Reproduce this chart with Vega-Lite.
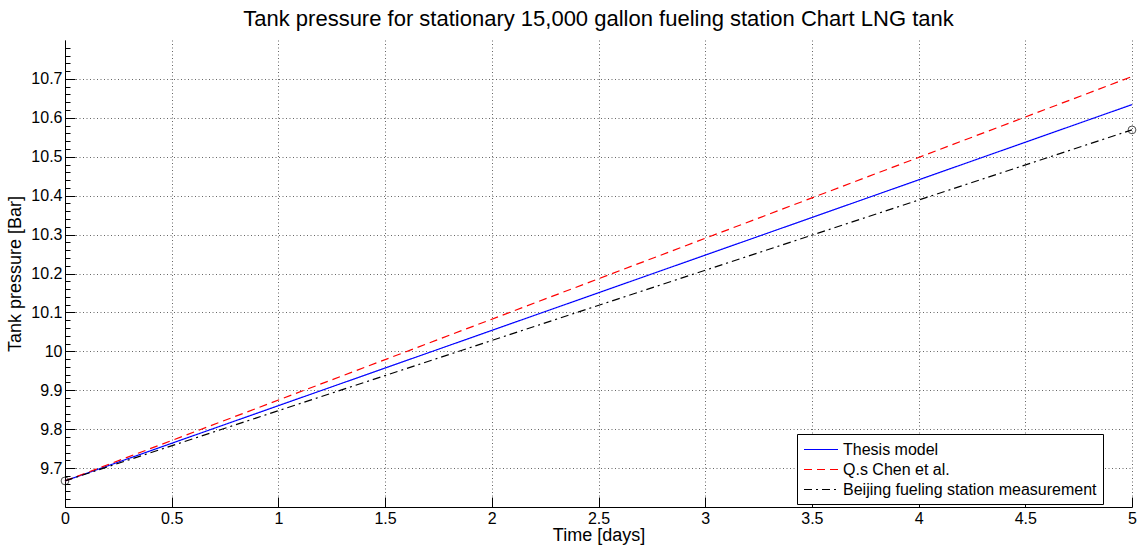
{
  "$schema": "https://vega.github.io/schema/vega-lite/v6.json",
  "width": 1067,
  "height": 467,
  "autosize": "none",
  "padding": {"left": 65, "top": 40, "right": 8, "bottom": 43},
  "background": "white",
  "title": {"text": "Tank pressure for stationary 15,000 gallon fueling station Chart LNG tank", "font": "Liberation Sans", "fontSize": 22, "fontWeight": "normal", "color": "black", "offset": 9},
  "config": {
    "view": {"stroke": null},
    "axis": {"labelFont": "Liberation Sans", "labelFontSize": 16, "labelColor": "black", "titleFont": "Liberation Sans", "titleFontSize": 18, "titleFontWeight": "normal", "titleColor": "black", "domainColor": "black", "tickColor": "black", "gridColor": "#666", "gridDash": [1, 2.5], "gridOpacity": 1, "labelFlush": false, "format": "~g"},
    "legend": {"labelFont": "Liberation Sans", "labelFontSize": 16, "labelColor": "black", "labelLimit": 500}
  },
  "data": {"values": [
    {"series": "Thesis model", "t": 0, "p": 9.667},
    {"series": "Thesis model", "t": 5, "p": 10.634},
    {"series": "Q.s Chen et al.", "t": 0, "p": 9.667},
    {"series": "Q.s Chen et al.", "t": 5, "p": 10.706},
    {"series": "Beijing fueling station measurement", "t": 0, "p": 9.667},
    {"series": "Beijing fueling station measurement", "t": 5, "p": 10.569}
  ]},
  "layer": [
    {
      "mark": {"type": "line", "strokeWidth": 1.2},
      "encoding": {
        "x": {"field": "t", "type": "quantitative", "scale": {"domain": [0, 5], "nice": false}, "axis": {"title": "Time [days]", "values": [0, 0.5, 1, 1.5, 2, 2.5, 3, 3.5, 4, 4.5, 5], "tickSize": -10, "labelPadding": 13, "titlePadding": 0}},
        "y": {"field": "p", "type": "quantitative", "scale": {"domain": [9.6, 10.8], "nice": false, "zero": false}, "axis": {"title": "Tank pressure [Bar]", "values": [9.7, 9.8, 9.9, 10, 10.1, 10.2, 10.3, 10.4, 10.5, 10.6, 10.7], "tickSize": -10, "labelPadding": 13, "titlePadding": 6}},
        "color": {"field": "series", "type": "nominal", "title": null, "scale": {"domain": ["Thesis model", "Q.s Chen et al.", "Beijing fueling station measurement"], "range": ["blue", "red", "black"]}, "legend": {"orient": "none", "legendX": 732, "legendY": 394, "strokeColor": "black", "fillColor": "white", "padding": 6, "symbolType": "M-2,0L2,0", "symbolSize": 289, "symbolStrokeWidth": 1.2, "rowPadding": 2, "labelOffset": 12.5, "symbolOffset": 8.5}},
        "strokeDash": {"field": "series", "type": "nominal", "title": null, "scale": {"domain": ["Thesis model", "Q.s Chen et al.", "Beijing fueling station measurement"], "range": [[1, 0], [8, 5], [8, 4, 2, 4]]}}
      }
    },
    {
      "transform": [{"filter": "datum.series === 'Beijing fueling station measurement'"}],
      "mark": {"type": "point", "shape": "circle", "filled": false, "color": "black", "size": 60, "strokeWidth": 1},
      "encoding": {
        "x": {"field": "t", "type": "quantitative"},
        "y": {"field": "p", "type": "quantitative", "axis": {"orient": "left", "values": [9.62, 9.64, 9.66, 9.68, 9.72, 9.74, 9.76, 9.78, 9.82, 9.84, 9.86, 9.88, 9.92, 9.94, 9.96, 9.98, 10.02, 10.04, 10.06, 10.08, 10.12, 10.14, 10.16, 10.18, 10.22, 10.24, 10.26, 10.28, 10.32, 10.34, 10.36, 10.38, 10.42, 10.44, 10.46, 10.48, 10.52, 10.54, 10.56, 10.58, 10.62, 10.64, 10.66, 10.68, 10.72, 10.74, 10.76, 10.78], "tickSize": -5, "labels": false, "grid": false, "domain": false, "title": null}}
      }
    }
  ],
  "resolve": {"axis": {"y": "independent"}}
}
